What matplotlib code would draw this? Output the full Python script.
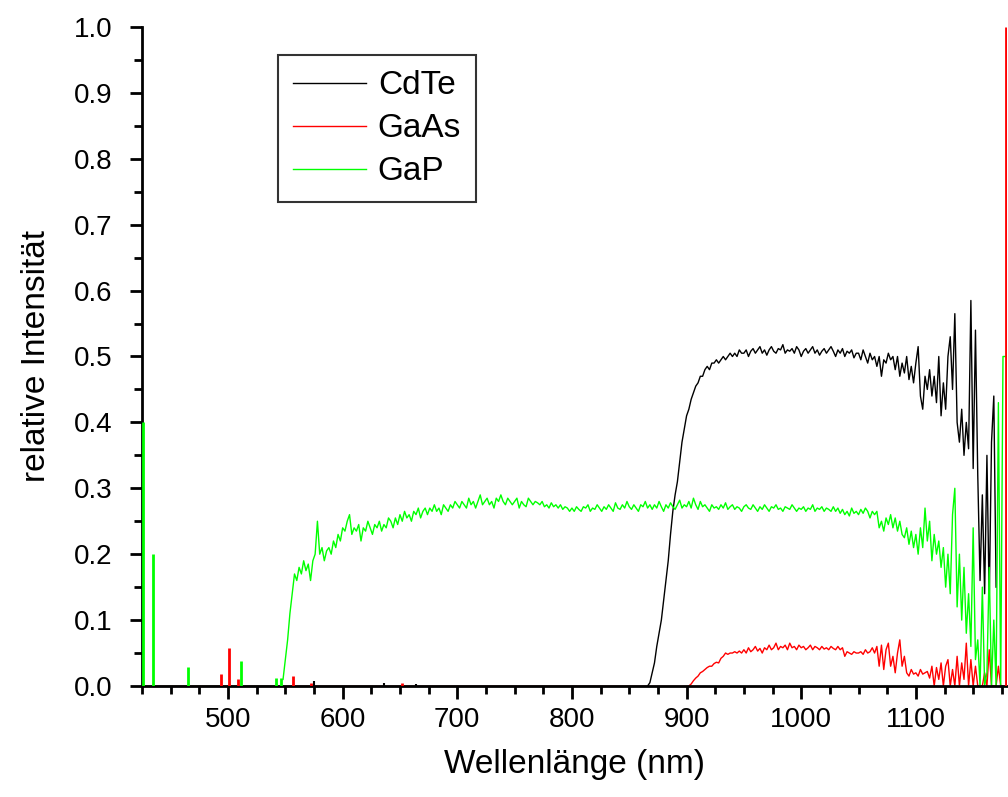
import numpy as np
import matplotlib
matplotlib.use("Agg")
from matplotlib import pyplot as plt
from matplotlib.ticker import MultipleLocator

plt.rcParams['font.family'] = ['Liberation Sans', 'DejaVu Sans']

# GaP (green), 2 nm steps from 548 nm
gap_wl = np.arange(548, 1179, 2)
gap_val = [
    0.01, 0.04, 0.07, 0.11, 0.14, 0.17, 0.16, 0.18, 0.17, 0.19, 0.175, 0.185, 0.16,
    0.19, 0.20, 0.25, 0.20, 0.21, 0.19, 0.205, 0.21, 0.20, 0.22, 0.21, 0.23, 0.22,
    # 600-698
    0.24, 0.235, 0.25, 0.26, 0.23, 0.24, 0.235, 0.245, 0.22, 0.24, 0.235, 0.25, 0.24,
    0.23, 0.245, 0.24, 0.25, 0.235, 0.245, 0.24, 0.255, 0.25, 0.24, 0.255, 0.245, 0.26,
    0.25, 0.265, 0.255, 0.26, 0.25, 0.265, 0.26, 0.27, 0.255, 0.265, 0.27, 0.26, 0.27,
    0.265, 0.275, 0.265, 0.27, 0.26, 0.275, 0.27, 0.265, 0.275, 0.27, 0.28,
    # 700-798
    0.275, 0.27, 0.28, 0.275, 0.27, 0.285, 0.275, 0.28, 0.27, 0.28, 0.29, 0.275, 0.28,
    0.285, 0.275, 0.28, 0.27, 0.285, 0.28, 0.29, 0.28, 0.275, 0.285, 0.28, 0.275, 0.28,
    0.285, 0.27, 0.28, 0.275, 0.272, 0.285, 0.28, 0.275, 0.28, 0.278, 0.275, 0.28, 0.272,
    0.275, 0.27, 0.278, 0.272, 0.275, 0.27, 0.275, 0.268, 0.272, 0.27, 0.265,
    # 800-898
    0.27, 0.265, 0.272, 0.268, 0.265, 0.272, 0.27, 0.275, 0.265, 0.27, 0.268, 0.275, 0.27,
    0.265, 0.272, 0.268, 0.275, 0.27, 0.265, 0.278, 0.27, 0.268, 0.275, 0.27, 0.28, 0.272,
    0.268, 0.275, 0.27, 0.265, 0.275, 0.272, 0.28, 0.27, 0.275, 0.268, 0.275, 0.27, 0.28,
    0.272, 0.265, 0.275, 0.27, 0.278, 0.272, 0.268, 0.275, 0.282, 0.27, 0.275,
    # 900-998
    0.272, 0.28, 0.27, 0.285, 0.275, 0.268, 0.28, 0.272, 0.275, 0.27, 0.265, 0.275, 0.27,
    0.272, 0.268, 0.275, 0.27, 0.278, 0.268, 0.272, 0.275, 0.268, 0.272, 0.27, 0.265, 0.272,
    0.275, 0.27, 0.268, 0.275, 0.27, 0.265, 0.272, 0.268, 0.275, 0.27, 0.265, 0.272, 0.27,
    0.275, 0.268, 0.27, 0.265, 0.272, 0.27, 0.268, 0.275, 0.27, 0.265, 0.27,
    # 1000-1098
    0.268, 0.272, 0.265, 0.27, 0.268, 0.275, 0.265, 0.27, 0.268, 0.272, 0.265, 0.27, 0.268,
    0.265, 0.272, 0.265, 0.27, 0.262, 0.268, 0.26, 0.265, 0.258, 0.27, 0.262, 0.265, 0.26,
    0.268, 0.262, 0.27, 0.265, 0.255, 0.265, 0.26, 0.265, 0.24, 0.25, 0.235, 0.255, 0.245,
    0.26, 0.24, 0.255, 0.235, 0.25, 0.23, 0.225, 0.24, 0.215, 0.235, 0.21,
    # 1100-1178
    0.23, 0.2, 0.24, 0.21, 0.27, 0.22, 0.25, 0.19, 0.23, 0.2, 0.22, 0.18, 0.21, 0.15,
    0.2, 0.14, 0.26, 0.30, 0.12, 0.2, 0.1, 0.18, 0.08, 0.14, 0.06, 0.24, 0.04, 0.07,
    0.0, 0.15, 0.0, 0.02, 0.18, 0.0, 0.1, 0.0, 0.43, 0.0, 0.5, 0.5,
]
gap_spike_wl = [426, 435, 465, 511, 542, 546]
gap_spike_val = [0.40, 0.20, 0.029, 0.038, 0.012, 0.012]

# CdTe (black), 2 nm steps from 866 nm
cdte_wl = np.arange(866, 1171, 2)
cdte_val = [
    0.0, 0.005, 0.02, 0.035, 0.06, 0.08, 0.1, 0.13, 0.16, 0.19, 0.23, 0.265, 0.29, 0.31,
    0.34, 0.37, 0.39, 0.41, 0.42, 0.435, 0.445, 0.455, 0.46, 0.47, 0.47, 0.48, 0.485,
    0.48, 0.49, 0.49, 0.495, 0.49, 0.495, 0.5, 0.495, 0.5, 0.505, 0.5, 0.505, 0.5, 0.51,
    0.505,
    # 950-1048
    0.505, 0.51, 0.5, 0.508, 0.512, 0.505, 0.51, 0.515, 0.505, 0.51, 0.502, 0.51, 0.515,
    0.508, 0.505, 0.512, 0.51, 0.518, 0.505, 0.51, 0.508, 0.512, 0.505, 0.515, 0.51, 0.5,
    0.508, 0.512, 0.505, 0.51, 0.515, 0.505, 0.51, 0.502, 0.508, 0.512, 0.505, 0.51, 0.515,
    0.508, 0.5, 0.51, 0.505, 0.512, 0.5, 0.508, 0.505, 0.51, 0.498, 0.505,
    # 1050-1170
    0.505, 0.495, 0.51, 0.5, 0.49, 0.505, 0.495, 0.5, 0.485, 0.5, 0.47, 0.495, 0.49,
    0.505, 0.495, 0.5, 0.48, 0.5, 0.47, 0.49, 0.475, 0.5, 0.465, 0.485, 0.46,
    0.49, 0.515, 0.44, 0.42, 0.47, 0.45, 0.48, 0.44, 0.47, 0.43, 0.5, 0.41, 0.46,
    0.42, 0.5, 0.53, 0.45, 0.565, 0.4, 0.37, 0.42, 0.35, 0.4, 0.36, 0.585,
    0.33, 0.54, 0.32, 0.16, 0.29, 0.14, 0.35, 0.13, 0.37, 0.44, 0.15,
]
cdte_spike_wl = [575, 636, 664]
cdte_spike_val = [0.008, 0.005, 0.003]

# GaAs (red), 2 nm steps from 902 nm
gaas_wl = np.arange(902, 1177, 2)
gaas_val = [
    0.0, 0.003, 0.008, 0.012, 0.015, 0.02, 0.022, 0.025, 0.028, 0.03, 0.03, 0.034, 0.036,
    0.035, 0.042, 0.045, 0.05, 0.048, 0.05, 0.05, 0.052, 0.05, 0.053, 0.05,
    # 950-1048
    0.055, 0.05, 0.058, 0.052, 0.055, 0.06, 0.053, 0.057, 0.05, 0.058, 0.055, 0.062, 0.055,
    0.058, 0.065, 0.055, 0.06, 0.058, 0.062, 0.055, 0.065, 0.058, 0.06, 0.055, 0.062, 0.058,
    0.06, 0.055, 0.058, 0.062, 0.055, 0.06, 0.058, 0.055, 0.06, 0.056, 0.058, 0.055, 0.06,
    0.057, 0.055, 0.06, 0.055, 0.058, 0.045, 0.052, 0.05, 0.048, 0.052, 0.05,
    # 1050-1176
    0.05, 0.052, 0.048, 0.055, 0.05, 0.052, 0.058, 0.05, 0.06, 0.03, 0.062, 0.025, 0.055,
    0.065, 0.03, 0.045, 0.02, 0.05, 0.07, 0.03, 0.045, 0.02, 0.015, 0.025, 0.018,
    0.02, 0.015, 0.025, 0.018, 0.02, 0.022, 0.012, 0.03, 0.0, 0.028, 0.01, 0.035, 0.0,
    0.03, 0.04, 0.0, 0.025, 0.0, 0.045, 0.0, 0.035, 0.01, 0.065, 0.0, 0.04,
    0.0, 0.03, 0.0, 0.0, 0.0, 0.02, 0.0, 0.055, 0.0, 0.0, 0.0, 0.03, 0.0, 0.0,
]
gaas_spike_wl = [494, 500.5, 509, 557, 572.5, 652, 1178.3]
gaas_spike_val = [0.018, 0.058, 0.011, 0.015, 0.005, 0.004, 1.0]

fig = plt.figure(figsize=(10.08, 7.97), dpi=100)
ax = fig.add_axes([0.1409, 0.1393, 0.8581, 0.8268])

lw = 1.0
# baselines at zero
ax.plot([425, gap_wl[0]], [0, 0], color='#00ff00', lw=lw)
ax.plot([425, cdte_wl[0]], [0, 0], color='black', lw=lw)
ax.plot([425, gaas_wl[0]], [0, 0], color='red', lw=lw)

ax.plot(cdte_wl, cdte_val, color='black', lw=lw, label='CdTe')
ax.plot(gaas_wl, gaas_val, color='red', lw=lw, label='GaAs')
ax.plot(gap_wl, gap_val, color='#00ff00', lw=lw, label='GaP')

ax.vlines(gap_spike_wl, 0, gap_spike_val, color='#00ff00', lw=2, zorder=6)
ax.vlines(cdte_spike_wl, 0, cdte_spike_val, color='black', lw=1.5)
ax.vlines(gaas_spike_wl, 0, gaas_spike_val, color='red', lw=2, zorder=7)

ax.set_xlim(425, 1179.5)
ax.set_ylim(0, 1.0)
ax.xaxis.set_major_locator(MultipleLocator(100))
ax.xaxis.set_minor_locator(MultipleLocator(25))
ax.yaxis.set_major_locator(MultipleLocator(0.1))
ax.yaxis.set_minor_locator(MultipleLocator(0.05))
ax.yaxis.set_major_formatter(matplotlib.ticker.FormatStrFormatter('%.1f'))

for s in ['top', 'right']:
    ax.spines[s].set_visible(False)
for s in ['left', 'bottom']:
    ax.spines[s].set_linewidth(2)
    ax.spines[s].set_zorder(5)

ax.tick_params(which='major', direction='out', length=9, width=2, labelsize=20)
ax.tick_params(which='minor', direction='out', length=6, width=2)
ax.tick_params(axis='y', pad=12)
ax.tick_params(axis='x', pad=6)

ax.set_xlabel('Wellenlänge (nm)', fontsize=24, labelpad=12)
ax.set_ylabel('relative Intensität', fontsize=24, labelpad=16)

leg = ax.legend(loc='upper left', bbox_to_anchor=(0.157, 0.957), fontsize=24,
                fancybox=False, frameon=True, edgecolor='black', handlelength=2.2,
                handletextpad=0.35, labelspacing=0.36, borderpad=0.45,
                borderaxespad=0)
leg.get_frame().set_linewidth(1.5)

fig.savefig('out.png', dpi=100)
